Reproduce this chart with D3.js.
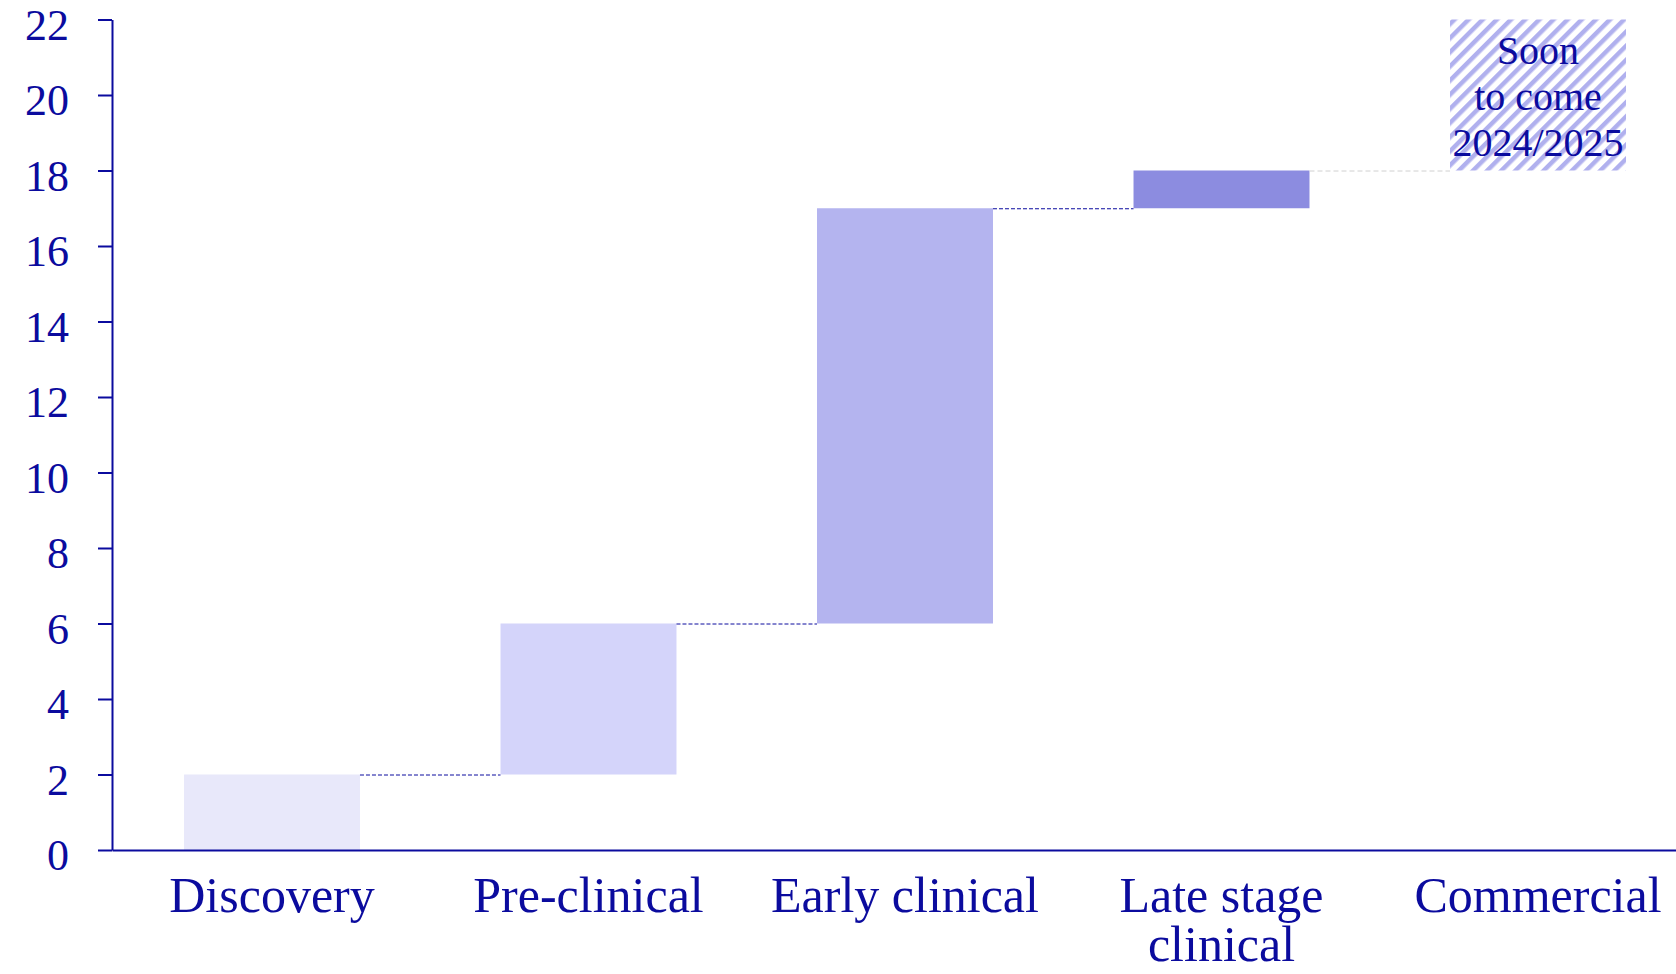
<!DOCTYPE html>
<html>
<head>
<meta charset="utf-8">
<script src="https://cdn.jsdelivr.net/npm/d3@7"></script>
<style>
  html, body { margin: 0; padding: 0; background: #fff; }
  svg { display: block; }
  text { font-family: "Liberation Serif", "DejaVu Serif", serif; }
</style>
</head>
<body>
<svg id="chart" width="1676" height="974"></svg>
<script>
// Pipeline stages and the cumulative count added at each stage
const stages = ["Discovery", "Pre-clinical", "Early clinical", "Late stage clinical", "Commercial"];
const stageLines = [["Discovery"], ["Pre-clinical"], ["Early clinical"], ["Late stage", "clinical"], ["Commercial"]];
const increments = [2, 4, 11, 1];
const pendingIncrement = 4;          // placeholder for the upcoming commercial stage
const pendingNote = ["Soon", "to come", "2024/2025"];
const barColors = ["#e8e8fa", "#d4d4fa", "#b4b4ef", "#8c8ce0"];
const yTicks = [0, 2, 4, 6, 8, 10, 12, 14, 16, 18, 20, 22];

const ink = "#0b0b9e";
const svg = d3.select("#chart");

const x = d3.scaleBand()
  .domain(stages)
  .range([112, 1698])
  .paddingInner(0.444)
  .paddingOuter(0.2275);

const y = d3.scaleLinear().domain([0, 22]).range([850, 19.5]);

// running totals -> waterfall segments
let total = 0;
const steps = increments.map((v, i) => {
  const s = { stage: stages[i], start: total, end: total + v, color: barColors[i] };
  total += v;
  return s;
});
const pending = { stage: stages[4], start: total, end: total + pendingIncrement };

// hatch pattern for the upcoming stage
const defs = svg.append("defs");
const pat = defs.append("pattern")
  .attr("id", "hatch")
  .attr("patternUnits", "userSpaceOnUse")
  .attr("width", 10).attr("height", 10)
  .attr("patternTransform", "rotate(45)");
pat.append("rect").attr("width", 10).attr("height", 10).attr("fill", "#ffffff");
pat.append("rect").attr("x", 0).attr("width", 4.5).attr("height", 10).attr("fill", "#b0b0ee");

// bars
svg.append("g").selectAll("rect")
  .data(steps)
  .join("rect")
  .attr("x", d => x(d.stage))
  .attr("width", x.bandwidth())
  .attr("y", d => y(d.end))
  .attr("height", d => y(d.start) - y(d.end))
  .attr("fill", d => d.color);

// dashed connectors between consecutive bars
svg.append("g").selectAll("line")
  .data(steps.slice(0, -1))
  .join("line")
  .attr("x1", d => x(d.stage) + x.bandwidth())
  .attr("x2", (d, i) => x(steps[i + 1].stage))
  .attr("y1", d => y(d.end) + 0.5)
  .attr("y2", d => y(d.end) + 0.5)
  .attr("stroke", ink)
  .attr("stroke-width", 1)
  .attr("stroke-dasharray", "4,2");

const last = steps[steps.length - 1];
svg.append("line")
  .attr("x1", x(last.stage) + x.bandwidth())
  .attr("x2", x(pending.stage))
  .attr("y1", y(last.end) + 0.5)
  .attr("y2", y(last.end) + 0.5)
  .attr("stroke", "#d0d0d0")
  .attr("stroke-width", 1)
  .attr("stroke-dasharray", "5,3");

// upcoming stage box
svg.append("rect")
  .attr("x", x(pending.stage))
  .attr("width", x.bandwidth())
  .attr("y", y(pending.end))
  .attr("height", y(pending.start) - y(pending.end))
  .attr("fill", "url(#hatch)");

const noteX = x(pending.stage) + x.bandwidth() / 2;
const noteTop = y(pending.end);
svg.append("text")
  .attr("text-anchor", "middle")
  .attr("fill", ink)
  .attr("font-size", 40)
  .selectAll("tspan")
  .data(pendingNote)
  .join("tspan")
  .attr("x", noteX)
  .attr("y", (d, i) => noteTop + 44 + i * 46)
  .text(d => d);

// y axis
const yAxis = svg.append("g")
  .attr("transform", "translate(112,0)")
  .call(d3.axisLeft(y).tickValues(yTicks).tickSize(14).tickSizeOuter(0).tickPadding(29));
yAxis.select(".domain").attr("stroke", ink).attr("stroke-width", 2);
yAxis.selectAll(".tick line").attr("stroke", ink).attr("stroke-width", 2);
yAxis.selectAll(".tick text")
  .attr("fill", ink)
  .attr("font-size", 44)
  .attr("font-family", "'Liberation Serif', serif")
  .attr("dy", "0.45em");

// x axis baseline
const xAxis = svg.append("g")
  .attr("transform", `translate(0,${y(0)})`)
  .call(d3.axisBottom(x).tickSize(0).tickSizeOuter(0).tickFormat(() => ""));
xAxis.select(".domain").attr("stroke", ink).attr("stroke-width", 2);

// category labels (multi-line)
svg.append("g").selectAll("text")
  .data(stages)
  .join("text")
  .attr("text-anchor", "middle")
  .attr("fill", ink)
  .attr("font-size", 50)
  .each(function (d, i) {
    d3.select(this).selectAll("tspan")
      .data(stageLines[i])
      .join("tspan")
      .attr("x", x(d) + x.bandwidth() / 2)
      .attr("y", (t, j) => y(0) + 62 + j * 49)
      .text(t => t);
  });
</script>
</body>
</html>
